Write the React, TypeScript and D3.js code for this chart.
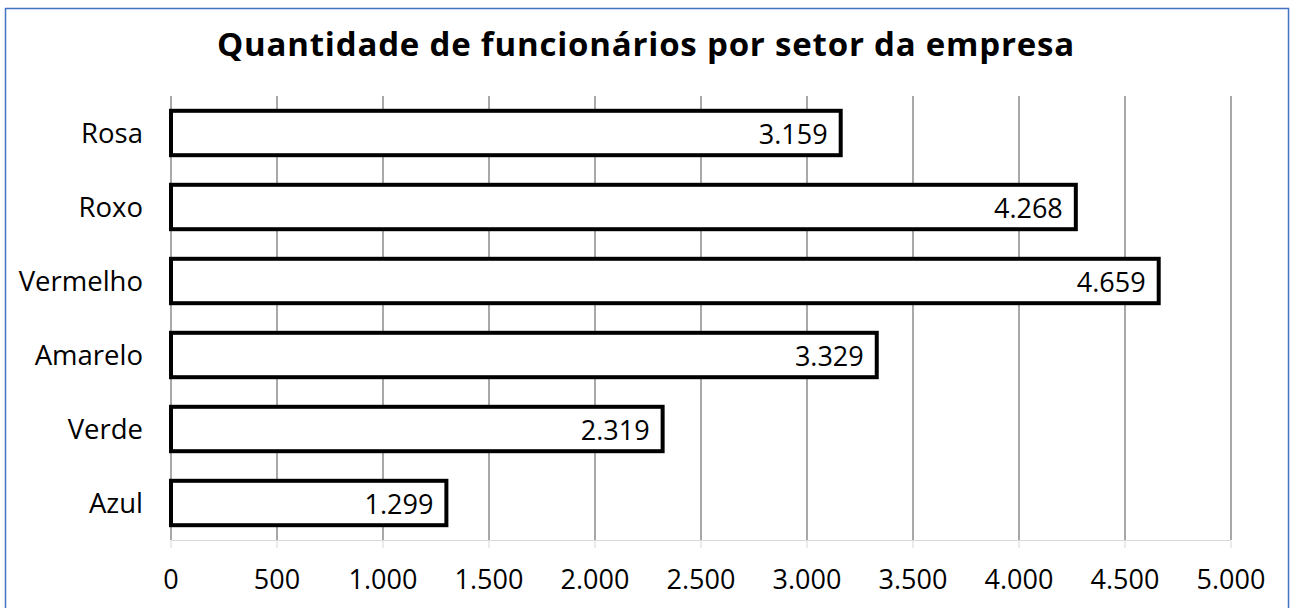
import React, { useEffect, useRef } from "react";
import * as d3 from "d3";

const categories = ["Rosa", "Roxo", "Vermelho", "Amarelo", "Verde", "Azul"];
const values = [3159, 4268, 4659, 3329, 2319, 1299];
const xTicks = [0, 500, 1000, 1500, 2000, 2500, 3000, 3500, 4000, 4500, 5000];
const title = "Quantidade de funcionários por setor da empresa";

const App = () => {
  const svgRef = useRef<SVGSVGElement | null>(null);

  useEffect(() => {
    if (!svgRef.current) return;
    const svg = d3.select(svgRef.current);
    svg.selectAll("*").remove();

    const font = "'Open Sans', sans-serif";
    const ptBR = d3.formatLocale({ decimal: ",", thousands: ".", grouping: [3], currency: ["R$", ""] });
    const fmt = ptBR.format(",d");

    // outer border
    svg.append("rect")
      .attr("x", 5.5).attr("y", 8.5)
      .attr("width", 1283).attr("height", 610)
      .attr("fill", "white")
      .attr("stroke", "#4472c4")
      .attr("stroke-width", 1.5);

    const x = d3.scaleLinear().domain([0, 5000]).range([171, 1231]);
    const y = d3.scaleBand().domain(categories).range([96, 540]).paddingInner(0.4).paddingOuter(0.2);

    // gridlines
    svg.append("g")
      .selectAll("line")
      .data(xTicks)
      .join("line")
      .attr("x1", d => x(d)).attr("x2", d => x(d))
      .attr("y1", 96).attr("y2", 540)
      .attr("stroke", "#6f6f6f")
      .attr("stroke-width", 1.2);

    // axis baseline + tick marks
    svg.append("line")
      .attr("x1", x(0)).attr("x2", x(5000))
      .attr("y1", 540.5).attr("y2", 540.5)
      .attr("stroke", "#d9d9d9");
    svg.append("g")
      .selectAll("line")
      .data(xTicks)
      .join("line")
      .attr("x1", d => x(d)).attr("x2", d => x(d))
      .attr("y1", 541).attr("y2", 548)
      .attr("stroke", "#d9d9d9");

    // tick labels
    svg.append("g")
      .selectAll("text")
      .data(xTicks)
      .join("text")
      .attr("x", d => x(d))
      .attr("y", 589)
      .attr("text-anchor", "middle")
      .attr("font-family", font)
      .attr("font-size", 27)
      .attr("fill", "#000")
      .text(d => fmt(d));

    // category labels
    svg.append("g")
      .selectAll("text")
      .data(categories)
      .join("text")
      .attr("x", 143)
      .attr("y", d => (y(d) as number) + y.bandwidth() / 2 + 10)
      .attr("text-anchor", "end")
      .attr("font-family", font)
      .attr("font-size", 27.5)
      .attr("fill", "#000")
      .text(d => d);

    // bars
    svg.append("g")
      .selectAll("rect")
      .data(values)
      .join("rect")
      .attr("x", x(0))
      .attr("y", (d, i) => y(categories[i]) as number)
      .attr("width", d => x(d) - x(0))
      .attr("height", y.bandwidth())
      .attr("fill", "white")
      .attr("stroke", "#000")
      .attr("stroke-width", 4);

    // data labels
    svg.append("g")
      .selectAll("text")
      .data(values)
      .join("text")
      .attr("x", d => x(d) - 13)
      .attr("y", (d, i) => (y(categories[i]) as number) + y.bandwidth() / 2 + 11)
      .attr("text-anchor", "end")
      .attr("font-family", font)
      .attr("font-size", 27)
      .attr("fill", "#000")
      .text(d => fmt(d));

    // title
    svg.append("text")
      .attr("x", 646)
      .attr("y", 56)
      .attr("text-anchor", "middle")
      .attr("font-family", font)
      .attr("font-weight", "bold")
      .attr("font-size", 33)
      .attr("letter-spacing", 0.8)
      .attr("fill", "#000")
      .text(title);
  }, []);

  return (
    <svg
      ref={svgRef}
      width={1293}
      height={608}
      style={{ position: "absolute", left: 0, top: 0, display: "block" }}
    />
  );
};

export default App;
